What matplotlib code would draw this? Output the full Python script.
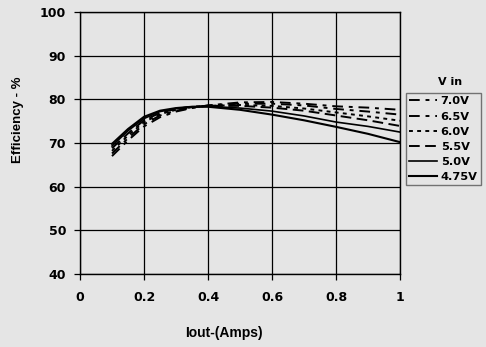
import matplotlib
matplotlib.use("Agg")
import matplotlib.pyplot as plt

iout = [0.1, 0.15, 0.2, 0.25, 0.3, 0.35, 0.4, 0.5, 0.6, 0.7, 0.8, 0.9, 1.0]
eff_7v0 = [67.0, 70.6, 73.8, 75.9, 77.2, 78.0, 78.6, 79.3, 79.4, 79.0, 78.4, 78.1, 77.6]
eff_6v5 = [67.6, 71.1, 74.3, 76.3, 77.4, 78.1, 78.6, 79.0, 79.0, 78.6, 77.8, 77.2, 76.5]
eff_6v0 = [68.2, 71.7, 74.8, 76.6, 77.6, 78.2, 78.5, 78.7, 78.5, 77.9, 77.0, 76.1, 75.1]
eff_5v5 = [68.8, 72.2, 75.2, 76.9, 77.8, 78.3, 78.5, 78.5, 78.1, 77.4, 76.3, 75.2, 73.9]
eff_5v0 = [69.3, 72.8, 75.6, 77.2, 77.9, 78.3, 78.4, 78.0, 77.3, 76.2, 74.8, 73.8, 72.5]
eff_4v75 = [69.8, 73.2, 76.0, 77.4, 78.0, 78.3, 78.3, 77.6, 76.5, 75.2, 73.7, 72.1, 70.2]
labels = ["7.0V", "6.5V", "6.0V", "5.5V", "5.0V", "4.75V"]
xticks = [0, 0.2, 0.4, 0.6, 0.8, 1]
xticklabels = ["0", "0.2", "0.4", "0.6", "0.8", "1"]
yticks = [40, 50, 60, 70, 80, 90, 100]

series = [eff_7v0, eff_6v5, eff_6v0, eff_5v5, eff_5v0, eff_4v75]
styles = [
    dict(linestyle=(0, (5.5, 3, 2, 3)), lw=1.4),
    dict(linestyle=(0, (5.5, 3, 2, 3)), lw=1.4),
    dict(linestyle=(0, (2, 2.2)), lw=1.4),
    dict(linestyle=(0, (5.5, 2.8)), lw=1.4),
    dict(linestyle="-", lw=1.2),
    dict(linestyle="-", lw=1.5),
]

bg = "#e5e5e5"
plt.rcParams["font.family"] = ["DejaVu Sans"]
fig = plt.figure(figsize=(4.86, 3.47), dpi=100, facecolor=bg)
ax = fig.add_axes([80/486, 1-274/347, 320/486, 262/347], facecolor=bg)

handles = []
for ys, lab, st in zip(series, labels, styles):
    ln, = ax.plot(iout, ys, color="black", label=lab, **st)
    handles.append(ln)

ax.set_xlim(0, 1)
ax.set_ylim(40, 100)
ax.set_xticks(xticks)
ax.set_xticklabels(xticklabels)
ax.set_yticks(yticks)
ax.grid(True, color="black", lw=0.9)
ax.set_axisbelow(True)
for s in ["left", "bottom", "top", "right"]:
    ax.spines[s].set_color("black")
    ax.spines[s].set_linewidth(1.0)
ax.tick_params(axis="both", direction="out", length=4, width=0.9, color="black",
               labelsize=9, pad=6)
ax.tick_params(axis="x", pad=8)
for t in ax.get_xticklabels() + ax.get_yticklabels():
    t.set_fontweight("bold")

narrow = ["Liberation Sans Narrow", "Liberation Sans", "DejaVu Sans"]
fig.text(224/486, 1-333/347, "Iout-(Amps)", ha="center", va="center",
         fontsize=10, fontweight="bold", family=narrow)
fig.text(18/486, 1-120/347, "Efficiency - %", ha="center", va="center",
         rotation=90, fontsize=9.5, fontweight="bold", family=narrow)

fig.text(450/486, 1-82/347, "V in", ha="center", va="center",
         fontsize=8, fontweight="bold")
leg = fig.legend(handles=handles, labels=labels, loc="upper left",
                 bbox_to_anchor=(406/486, 1-93/347), frameon=True,
                 prop=dict(size=8.2, weight="bold"), handlelength=2.4,
                 handletextpad=0.35, labelspacing=0.45, borderpad=0.3,
                 borderaxespad=0, fancybox=False)
leg.get_frame().set_facecolor(bg)
leg.get_frame().set_edgecolor("#555555")
leg.get_frame().set_linewidth(1.0)

fig.savefig("out.png", dpi=100, facecolor=bg)
